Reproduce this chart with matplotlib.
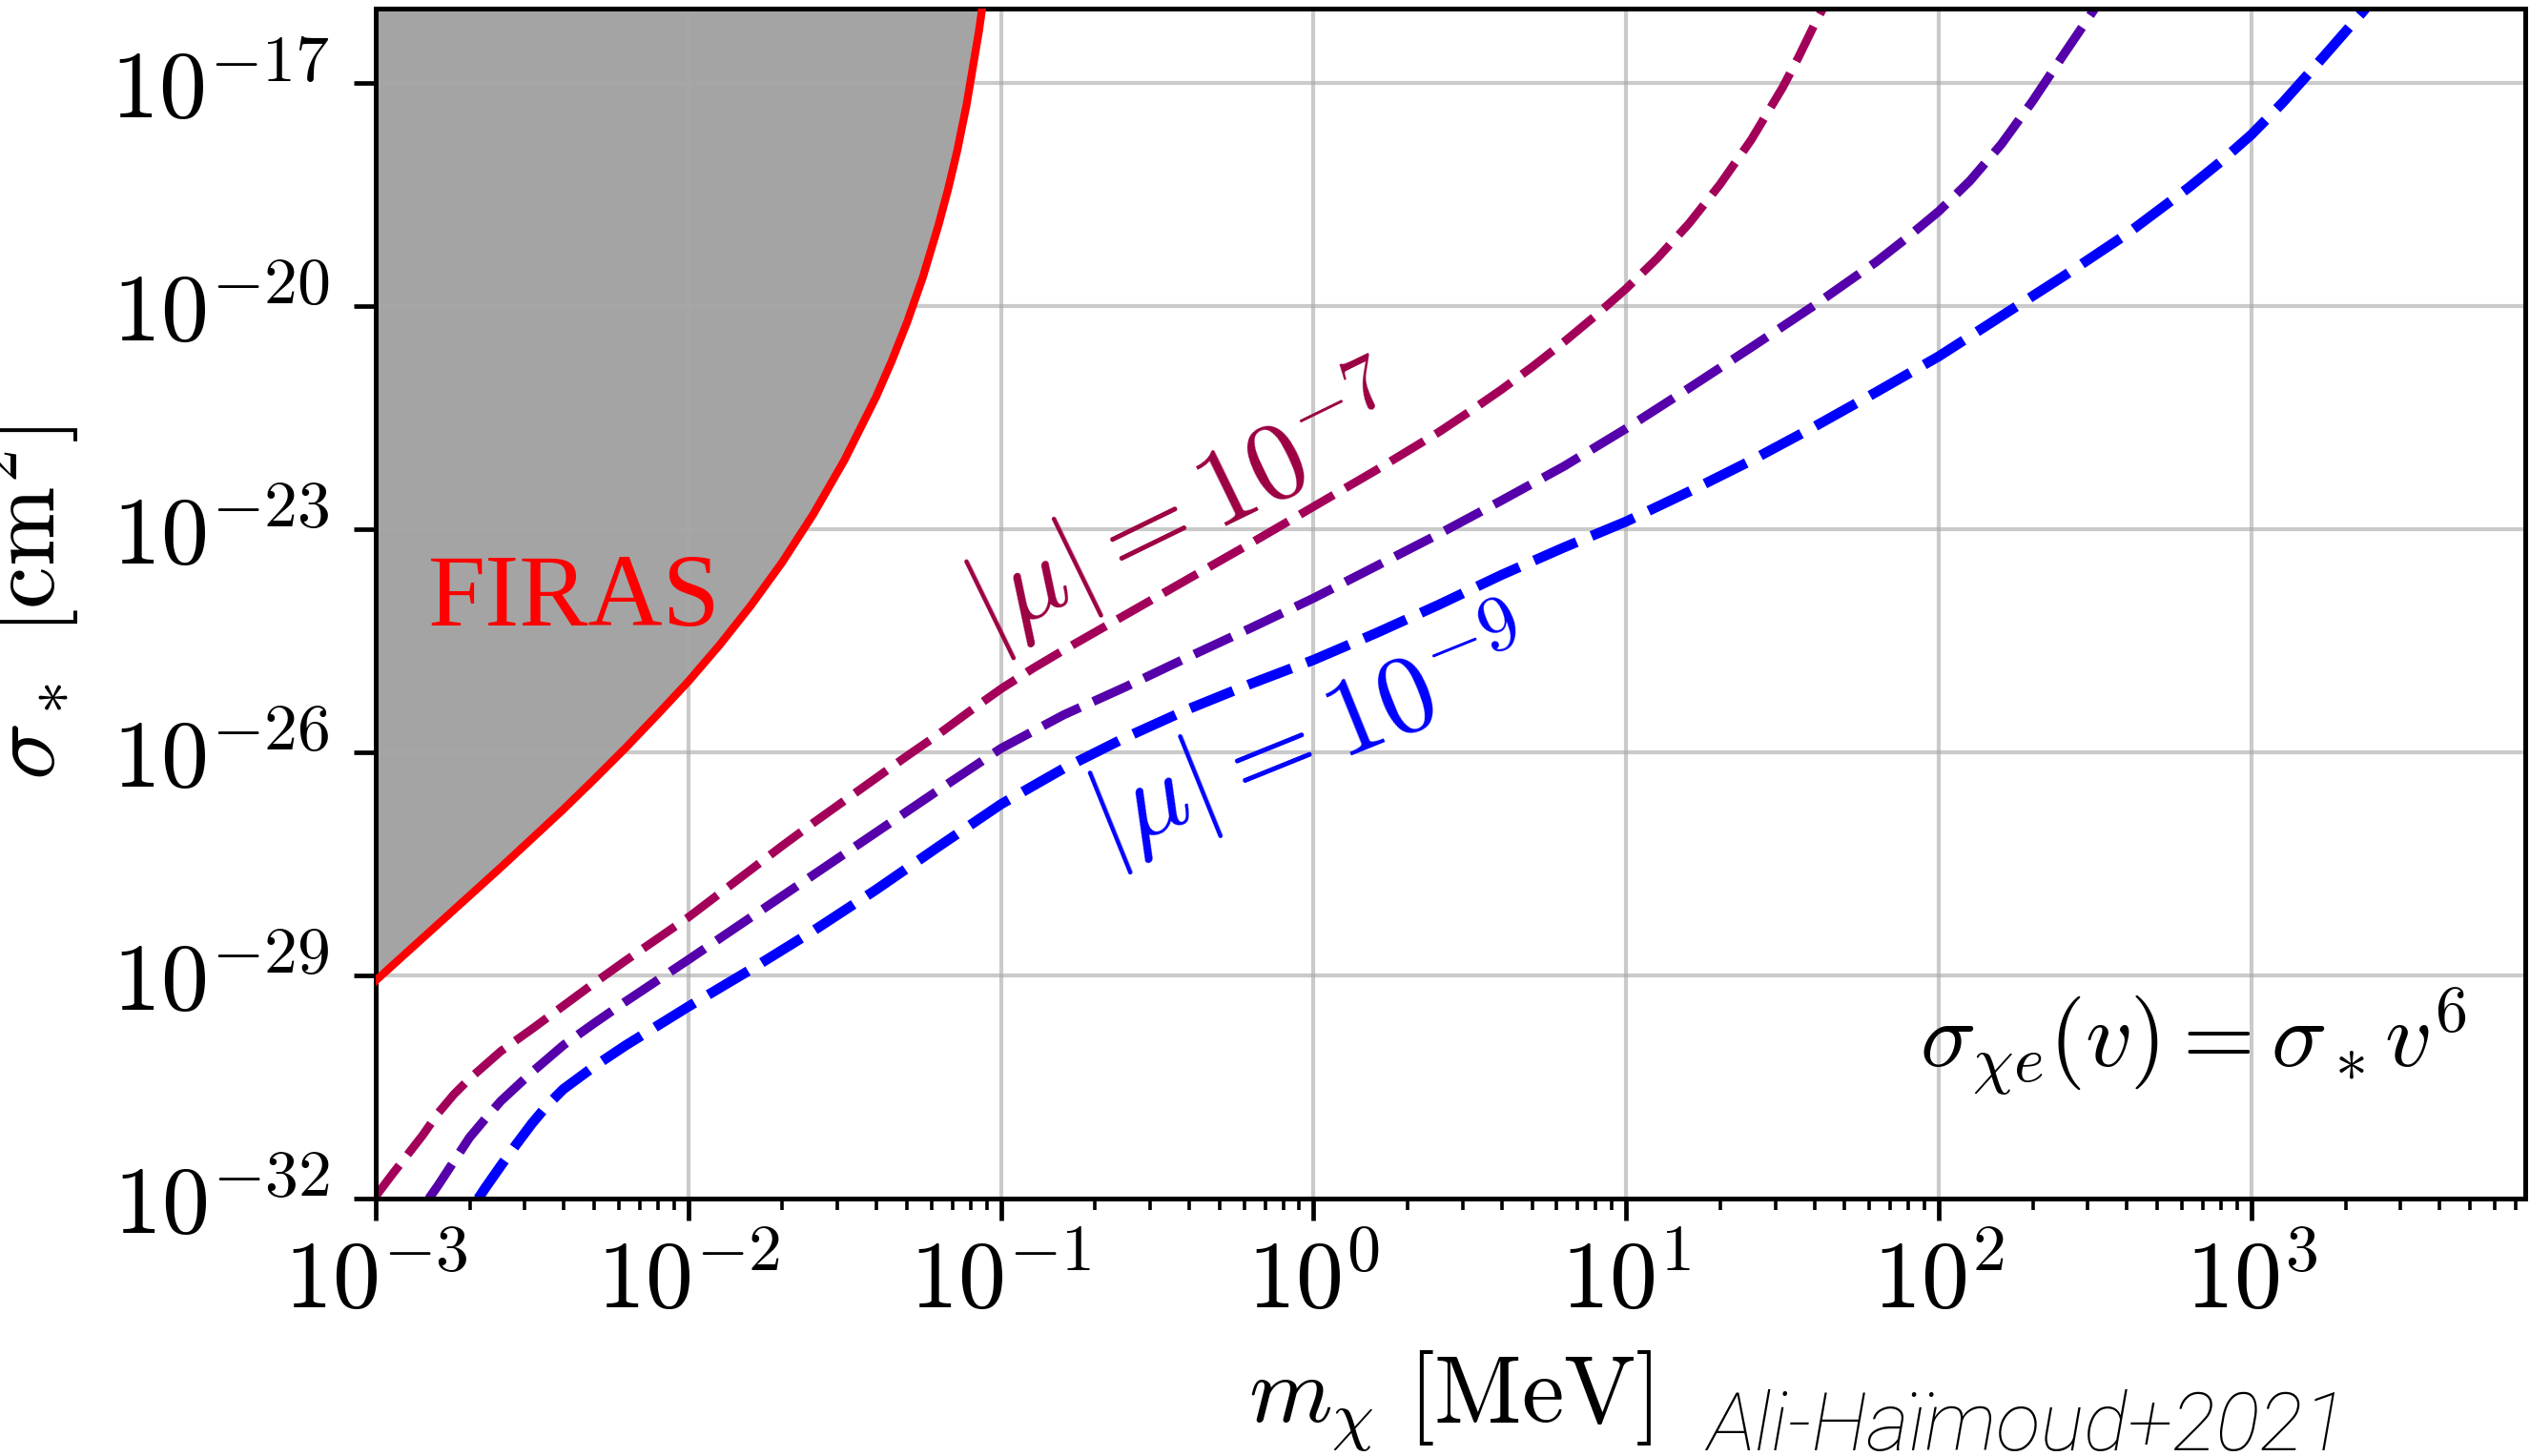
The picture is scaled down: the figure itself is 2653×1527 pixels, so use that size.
import numpy as np
from matplotlib import pyplot as plt
from matplotlib.ticker import LogLocator, NullLocator, FuncFormatter

plt.rcParams['mathtext.fontset'] = 'cm'
plt.rcParams['font.family'] = 'DejaVu Serif'

# FIRAS bound: log10(m / MeV), log10(sigma_* / cm^2)
firas_logm = [-3.0, -2.9, -2.8, -2.7, -2.6, -2.5, -2.4, -2.3, -2.2, -2.1, -2.0,
              -1.9, -1.8, -1.7, -1.6, -1.5, -1.4, -1.35, -1.3, -1.25, -1.2,
              -1.17, -1.14, -1.11, -1.09, -1.07, -1.06]
firas_logs = [-29.07, -28.69, -28.31, -27.93, -27.55, -27.16, -26.77, -26.36, -25.94, -25.50, -25.05,
              -24.56, -24.03, -23.45, -22.80, -22.07, -21.23, -20.75, -20.22, -19.62, -18.92,
              -18.45, -17.92, -17.30, -16.80, -16.30, -16.0]

# |mu| = 1e-7
mu7_logm = [-3.0, -2.95, -2.9, -2.85, -2.8, -2.75, -2.7, -2.6, -2.5, -2.4, -2.3, -2.2, -2.1,
            -2.0, -1.9, -1.8, -1.7, -1.6, -1.5, -1.4, -1.3, -1.2, -1.1, -1.0, -0.9, -0.8,
            -0.7, -0.6, -0.4, -0.2, 0.0, 0.2, 0.4, 0.5, 0.6, 0.7, 0.8, 0.9, 1.0, 1.1,
            1.2, 1.3, 1.4, 1.5, 1.55, 1.6, 1.63]
mu7_logs = [-31.97, -31.69, -31.42, -31.15, -30.85, -30.60, -30.39, -30.02, -29.72, -29.41, -29.10, -28.80, -28.51,
            -28.22, -27.90, -27.58, -27.26, -26.95, -26.65, -26.35, -26.05, -25.76, -25.45, -25.15, -24.88, -24.63,
            -24.39, -24.15, -23.67, -23.19, -22.70, -22.21, -21.70, -21.42, -21.13, -20.82, -20.49, -20.14, -19.77, -19.36,
            -18.90, -18.37, -17.77, -17.07, -16.67, -16.24, -16.0]

# |mu| = 1e-8
mu8_logm = [-2.83, -2.8, -2.75, -2.7, -2.65, -2.6, -2.5, -2.4, -2.3, -2.2, -2.1, -2.0,
            -1.8, -1.6, -1.4, -1.2, -1.0, -0.8, -0.6, -0.4, -0.2, 0.0, 0.2, 0.4, 0.6,
            0.8, 1.0, 1.2, 1.4, 1.6, 1.8, 1.9, 2.0, 2.1, 2.2, 2.3, 2.4, 2.45, 2.5]
mu8_logs = [-32.0, -31.82, -31.50, -31.18, -30.93, -30.69, -30.30, -29.94, -29.64, -29.35, -29.07, -28.79,
            -28.22, -27.65, -27.08, -26.51, -25.95, -25.50, -25.12, -24.72, -24.33, -23.93, -23.50, -23.07, -22.62,
            -22.16, -21.65, -21.11, -20.56, -20.00, -19.41, -19.08, -18.73, -18.32, -17.83, -17.25, -16.62, -16.31, -16.0]

# |mu| = 1e-9
mu9_logm = [-2.672, -2.65, -2.6, -2.55, -2.5, -2.45, -2.4, -2.3, -2.2, -2.1, -2.0, -1.8,
            -1.6, -1.4, -1.2, -1.0, -0.8, -0.6, -0.4, -0.2, 0.0, 0.2, 0.4, 0.6, 0.8,
            1.0, 1.2, 1.4, 1.6, 1.8, 2.0, 2.2, 2.4, 2.6, 2.8, 2.9, 3.0, 3.1, 3.2,
            3.25, 3.3, 3.35, 3.37]
mu9_logs = [-32.0, -31.86, -31.56, -31.27, -30.99, -30.74, -30.53, -30.22, -29.94, -29.68, -29.42, -28.92,
            -28.40, -27.85, -27.27, -26.70, -26.22, -25.80, -25.42, -25.08, -24.76, -24.40, -24.02, -23.62, -23.25,
            -22.90, -22.50, -22.08, -21.63, -21.16, -20.68, -20.14, -19.60, -19.04, -18.41, -18.07, -17.70, -17.27, -16.80,
            -16.56, -16.32, -16.08, -15.98]

xmin, xmax = 1e-3, 7.5e3
ymin, ymax = 1e-32, 1e-16
yticks = [1e-32, 1e-29, 1e-26, 1e-23, 1e-20, 1e-17]

c_mu7 = '#a3005a'
c_mu8 = '#5500aa'
c_mu9 = '#0000ff'

fs = 36

fig = plt.figure(figsize=(13.265, 7.635), dpi=200)
ax = fig.add_axes([0.1485, 0.1768, 0.8495, 0.8176])

m = 10.0 ** np.array(firas_logm)
s = 10.0 ** np.array(firas_logs)
ax.fill_between(m, s, ymax, color='#a4a4a4', lw=0, zorder=0.3)
ax.plot(m, s, color='red', lw=3.0, zorder=3)

dash = (0, (4.6, 1.6))
ax.plot(10.0 ** np.array(mu7_logm), 10.0 ** np.array(mu7_logs), color=c_mu7, lw=3.2, ls=dash)
ax.plot(10.0 ** np.array(mu8_logm), 10.0 ** np.array(mu8_logs), color=c_mu8, lw=3.4, ls=dash)
ax.plot(10.0 ** np.array(mu9_logm), 10.0 ** np.array(mu9_logs), color=c_mu9, lw=3.8, ls=dash)

ax.set_xscale('log')
ax.set_yscale('log')
ax.set_xlim(xmin, xmax)
ax.set_ylim(ymin, ymax)

ax.xaxis.set_major_locator(LogLocator(base=10, numticks=20))
ax.xaxis.set_minor_locator(LogLocator(base=10, subs=np.arange(2, 10), numticks=20))
ax.set_yticks(yticks)
ax.yaxis.set_minor_locator(NullLocator())

fmt = FuncFormatter(lambda v, pos: r'$10^{%d}$' % round(np.log10(v)))
ax.xaxis.set_major_formatter(fmt)
ax.yaxis.set_major_formatter(fmt)

ax.tick_params(which='major', length=8.3, width=1.7, labelsize=fs)
ax.tick_params(which='minor', length=4.3, width=1.3)
ax.tick_params(axis='x', pad=6)
ax.tick_params(axis='y', pad=9)
for sp in ax.spines.values():
    sp.set_linewidth(1.8)

ax.grid(True, which='major', color='#a8a8a8', alpha=0.6, lw=1.5)
ax.set_axisbelow(True)

ax.set_xlabel(r'$m_\chi\ [\mathrm{MeV}]$', fontsize=fs)
ax.xaxis.set_label_coords(0.5, -0.1266)
ax.xaxis.label.set_va('top')
ax.set_ylabel(r'$\sigma_*\ [\mathrm{cm}^2]$', fontsize=fs)
ax.yaxis.set_label_coords(-0.137, 0.5)

ax.text(10 ** -2.365, 10 ** -23.97, 'FIRAS', color='red', fontsize=39,
        family='Liberation Serif', ha='center', va='center')
ax.text(10 ** -0.41, 10 ** -22.75, r'$|\mu| = 10^{-7}$', color='#9b0042',
        fontsize=42, rotation=26, ha='center', va='center')
ax.text(10 ** -0.01, 10 ** -25.8, r'$|\mu| = 10^{-9}$', color=c_mu9,
        fontsize=42, rotation=22, ha='center', va='center')
ax.text(0.973, 0.111, r'$\sigma_{\chi e}(v) = \sigma_* v^6$', fontsize=35,
        transform=ax.transAxes, ha='right', va='baseline')

fig.text(0.6747, 0.004, 'Ali-Haïmoud+2021', family='Roboto', style='italic',
         weight='light', fontsize=31, color='black', ha='left', va='baseline')

fig.savefig('out.png', dpi=200)
